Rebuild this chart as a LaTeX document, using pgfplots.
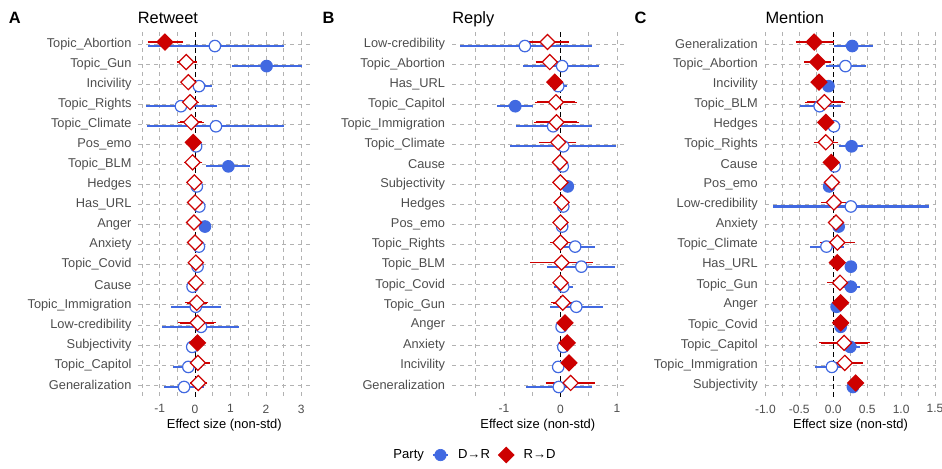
\documentclass[border=0pt]{standalone}
\usepackage{pgfplots}
\pgfplotsset{compat=1.18}
\usepackage{pgfplotstable}
\usepackage{fontspec}
\setmainfont{Liberation Sans}
\definecolor{dblue}{RGB}{65,105,225}
\definecolor{rred}{RGB}{205,0,0}
\definecolor{gridc}{RGB}{178,178,178}
\definecolor{txtg}{RGB}{77,77,77}

% Retweet
\pgfplotstableread{
row dest dlo dhi dsig rest rlo rhi rsig
1  0.56 -1.32  2.50 0 -0.85 -1.29 -0.40 1
2  2.02  1.04  3.03 1 -0.25 -0.47  0.00 0
3  0.11 -0.01  0.48 0 -0.19 -0.29 -0.09 0
4 -0.40 -1.38  0.61 0 -0.14 -0.35  0.05 0
5  0.59 -1.35  2.52 0 -0.11 -0.42  0.19 0
6  0.03 -0.02  0.08 0 -0.05 -0.09 -0.01 1
7  0.94  0.31  1.55 1 -0.07 -0.27  0.16 0
8  0.05 -0.02  0.12 0 -0.02 -0.07  0.03 0
9  0.12  0.02  0.20 0  0.00 -0.05  0.05 0
10 0.28  0.22  0.34 1 -0.03 -0.08  0.02 0
11 0.11 -0.10  0.28 0  0.00 -0.05  0.05 0
12 0.07 -0.03  0.17 0  0.02 -0.03  0.07 0
13 -0.07 -0.14 0.00 0  0.02 -0.03  0.07 0
14 0.02 -0.68  0.73 0  0.05 -0.23  0.33 0
15 0.17 -0.94  1.25 0  0.07 -0.42  0.54 0
16 -0.08 -0.15 -0.01 0 0.07  0.02  0.12 1
17 -0.19 -0.61 0.21 0  0.08 -0.10  0.38 0
18 -0.31 -0.88 0.24 0  0.09 -0.10  0.30 0
}\TA

% Reply
\pgfplotstableread{
row dest dlo dhi dsig rest rlo rhi rsig
1 -0.63 -1.78  0.55 0 -0.23 -0.56  0.12 0
2  0.03 -0.66  0.69 0 -0.19 -0.41  0.02 0
3 -0.04 -0.18  0.11 0 -0.10 -0.14 -0.06 1
4 -0.80 -1.12 -0.48 1 -0.08 -0.42  0.26 0
5 -0.13 -0.79  0.56 0 -0.07 -0.44  0.30 0
6  0.05 -0.90  0.98 0 -0.04 -0.35  0.25 0
7  0.04 -0.02  0.10 0 -0.01 -0.06  0.04 0
8  0.13  0.08  0.18 1  0.00 -0.05  0.05 0
9  0.05 -0.01  0.11 0  0.02 -0.03  0.07 0
10 0.03 -0.03  0.09 0  0.00 -0.05  0.05 0
11 0.26 -0.06  0.62 0  0.00 -0.15  0.16 0
12 0.37 -0.23  0.96 0  0.02 -0.50  0.54 0
13 0.05 -0.11  0.22 0  0.00 -0.06  0.06 0
14 0.28 -0.19  0.75 0  0.04 -0.13  0.22 0
15 0.02 -0.04  0.08 0  0.08  0.03  0.13 1
16 0.05 -0.06  0.16 0  0.12  0.07  0.17 1
17 -0.04 -0.15 0.07 0  0.15  0.10  0.20 1
18 -0.03 -0.61 0.56 0  0.18 -0.23  0.58 0
}\TB

% Mention
\pgfplotstableread{
row dest dlo dhi dsig rest rlo rhi rsig
1  0.28  0.01  0.58 1 -0.28 -0.53 -0.02 1
2  0.18 -0.11  0.48 0 -0.23 -0.40 -0.06 1
3 -0.07 -0.12 -0.02 1 -0.21 -0.26 -0.16 1
4 -0.20 -0.49  0.12 0 -0.13 -0.39  0.15 0
5  0.01 -0.04  0.06 0 -0.11 -0.16 -0.06 1
6  0.27  0.09  0.44 1 -0.11 -0.26  0.05 0
7  0.02 -0.03  0.07 0 -0.03 -0.06  0.00 1
8 -0.06 -0.10 -0.02 1 -0.02 -0.07  0.03 0
9  0.26 -0.88  1.41 0  0.01 -0.15  0.20 0
10 0.08  0.03  0.13 1  0.04 -0.02  0.10 0
11 -0.10 -0.34 0.16 0  0.06 -0.17  0.29 0
12 0.26  0.21  0.31 1  0.06  0.02  0.10 1
13 0.26  0.15  0.40 1  0.10 -0.06  0.25 0
14 0.05  0.01  0.09 1  0.11  0.06  0.16 1
15 0.11  0.06  0.16 1  0.11  0.06  0.16 1
16 0.25  0.10  0.39 1  0.16 -0.18  0.51 0
17 -0.02 -0.27 0.17 0  0.17 -0.02  0.41 0
18 0.29  0.24  0.34 1  0.33  0.28  0.38 1
}\TC

\tikzset{
 ptitle/.style={font=\fontsize{12.3}{14}\selectfont, anchor=base, yshift=6.6pt},
 pletter/.style={font=\bfseries\fontsize{12.3}{14}\selectfont, anchor=base, yshift=6.6pt},
}

\pgfplotsset{
 forest/.style={
  scale only axis, width=128.8pt, height=273.75pt, clip=false,
  anchor=south west,
  y dir=reverse, ymin=0.4, ymax=18.6, ytick={1,...,18},
  axis line style={draw=none}, tick style={draw=none},
  major tick length=0pt, minor tick length=0pt,
  xmajorgrids, xminorgrids, ymajorgrids,
  major grid style={draw=gridc, dash pattern=on 3pt off 3pt, line width=0.45pt},
  minor grid style={draw=gridc, dash pattern=on 3pt off 3pt, line width=0.45pt},
  extra x ticks={0}, extra x tick labels={},
  extra x tick style={grid=major, major grid style={draw=black, dash pattern=on 3.5pt off 2.5pt, line width=0.75pt}},
  /pgf/number format/assume math mode=true,
  yticklabel style={font=\fontsize{9.6}{11}\selectfont, text=txtg, inner sep=0pt, xshift=-5pt, anchor=east},
  xticklabel style={font=\fontsize{9}{10}\selectfont, text=txtg, inner sep=0pt, yshift=-5.6pt, anchor=north},
  xlabel={Effect size (non-std)},
  xlabel style={font=\fontsize{9.7}{11}\selectfont, at={(axis description cs:0.5,0)}, anchor=center, yshift=-21pt},
 },
 dbar/.style={draw=none, forget plot, error bars/.cd, x dir=both, x explicit, error mark=none,
   error bar style={draw=dblue, line width=1.55pt}},
 rbar/.style={draw=none, forget plot, error bars/.cd, x dir=both, x explicit, error mark=-,
   error mark options={draw=rred, line width=0.9pt, mark size=1.3pt},
   error bar style={draw=rred, line width=1.2pt}},
 dfill/.style={only marks, forget plot, mark=*, mark size=4.3pt, mark options={draw=dblue, fill=dblue, line width=0.9pt}},
 dopen/.style={only marks, forget plot, mark=*, mark size=4.3pt, mark options={draw=dblue, fill=white, line width=0.9pt}},
 rfill/.style={only marks, forget plot, mark=square*, mark size=4.2pt, mark options={rotate=45, draw=rred, fill=rred, line width=0.9pt}},
 ropen/.style={only marks, forget plot, mark=square*, mark size=4.0pt, mark options={rotate=45, draw=rred, fill=white, line width=0.9pt}},
}

\newcommand{\forestplots}[1]{%
  \addplot[dbar] table[x=dest, y expr=\thisrow{row}+0.1, x error plus expr=\thisrow{dhi}-\thisrow{dest}, x error minus expr=\thisrow{dest}-\thisrow{dlo}] {#1};
  \addplot[rbar] table[x=rest, y expr=\thisrow{row}-0.1, x error plus expr=\thisrow{rhi}-\thisrow{rest}, x error minus expr=\thisrow{rest}-\thisrow{rlo}] {#1};
  \addplot[dopen, restrict expr to domain={\thisrow{dsig}}{-0.5:0.5}] table[x=dest, y expr=\thisrow{row}+0.1] {#1};
  \addplot[dfill, restrict expr to domain={\thisrow{dsig}}{0.5:1.5}] table[x=dest, y expr=\thisrow{row}+0.1] {#1};
  \addplot[ropen, restrict expr to domain={\thisrow{rsig}}{-0.5:0.5}] table[x=rest, y expr=\thisrow{row}-0.1] {#1};
  \addplot[rfill, restrict expr to domain={\thisrow{rsig}}{0.5:1.5}] table[x=rest, y expr=\thisrow{row}-0.1] {#1};
}

\begin{document}
\begin{tikzpicture}
\useasboundingbox (0,0) rectangle (706.5pt,351pt);

% Panel A: Retweet
\begin{axis}[forest, at={(103.8pt,53.25pt)},
  xmin=-1.6, xmax=3.25, xtick={-1,0,1,2,3}, minor xtick={-1.5,-0.5,0.5,1.5,2.5},
  yticklabels={Topic\_Abortion,Topic\_Gun,Incivility,Topic\_Rights,Topic\_Climate,Pos\_emo,Topic\_BLM,Hedges,Has\_URL,Anger,Anxiety,Topic\_Covid,Cause,Topic\_Immigration,Low-credibility,Subjectivity,Topic\_Capitol,Generalization}]
\forestplots{\TA}
\node[ptitle] at (axis description cs:0.172,1) {Retweet};
\node[pletter] at (axis description cs:-0.72,1) {A};
\end{axis}

% Panel B: Reply
\begin{axis}[forest, at={(339pt,53.25pt)},
  xmin=-1.92, xmax=1.12, xtick={-1,0,1}, minor xtick={-1.5,-0.5,0.5},
  yticklabels={Low-credibility,Topic\_Abortion,Has\_URL,Topic\_Capitol,Topic\_Immigration,Topic\_Climate,Cause,Subjectivity,Hedges,Pos\_emo,Topic\_Rights,Topic\_BLM,Topic\_Covid,Topic\_Gun,Anger,Anxiety,Incivility,Generalization},
  legend style={at={(0.131,-0.159)}, anchor=center, draw=none, fill=none,
    font=\fontsize{9.8}{11}\selectfont,
    /tikz/every even column/.append style={column sep=4pt}},
  legend columns=3,
  legend image code/.code={\path (0pt,0pt) (16pt,0pt); \draw[mark repeat=2,mark phase=2,#1] plot coordinates {(0pt,0pt) (5.6pt,0pt) (11.2pt,0pt)};}]
\forestplots{\TB}
\addlegendimage{empty legend}\addlegendentry{Party}
\addlegendimage{dblue, line width=1.55pt, mark=*, mark size=4.3pt, mark options={fill=dblue, line width=0.5pt}}\addlegendentry{D→R}
\addlegendimage{rred, line width=1.2pt, mark=square*, mark size=4.2pt, mark options={rotate=45, fill=rred, line width=0.5pt}}\addlegendentry{R→D}
\node[ptitle] at (axis description cs:0.124,1) {Reply};
\node[pletter] at (axis description cs:-0.719,1) {B};
\end{axis}

% Panel C: Mention
\begin{axis}[forest, at={(573.5pt,53.25pt)},
  xmin=-1.01, xmax=1.52, xtick={-1,-0.5,0,0.5,1,1.5}, minor xtick={-0.75,-0.25,0.25,0.75,1.25},
  xticklabel style={/pgf/number format/fixed, /pgf/number format/fixed zerofill, /pgf/number format/precision=1},
  yticklabels={Generalization,Topic\_Abortion,Incivility,Topic\_BLM,Hedges,Topic\_Rights,Cause,Pos\_emo,Low-credibility,Anxiety,Topic\_Climate,Has\_URL,Topic\_Gun,Anger,Topic\_Covid,Topic\_Capitol,Topic\_Immigration,Subjectivity}]
\forestplots{\TC}
\node[ptitle] at (axis description cs:0.175,1) {Mention};
\node[pletter] at (axis description cs:-0.723,1) {C};
\end{axis}
\end{tikzpicture}
\end{document}
